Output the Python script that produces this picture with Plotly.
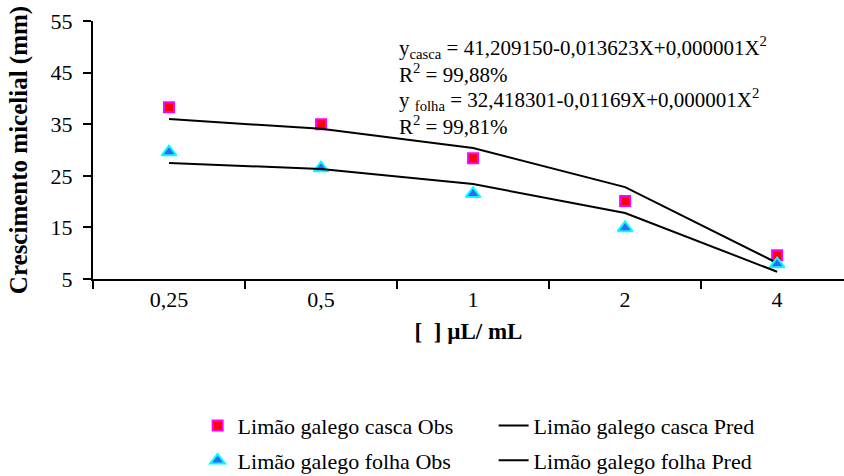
import plotly.graph_objects as go

# Concentrations (µL/mL) shown as categories on the x axis
concentracoes = ["0,25", "0,5", "1", "2", "4"]

# Mycelial growth (mm)
casca_obs = [38.3, 35.0, 28.4, 20.1, 9.6]
casca_pred = [36.0, 34.1, 30.4, 22.8, 8.1]
folha_obs = [29.6, 26.5, 21.5, 14.9, 7.9]
folha_pred = [27.5, 26.3, 23.4, 17.8, 6.4]

eq_casca = "y<sub>casca</sub> = 41,209150-0,013623X+0,000001X<sup>2</sup>"
r2_casca = "R<sup>2</sup> = 99,88%"
eq_folha = "y <sub>folha</sub> = 32,418301-0,01169X+0,000001X<sup>2</sup>"
r2_folha = "R<sup>2</sup> = 99,81%"

FONT = "Liberation Serif"

fig = go.Figure()

fig.add_trace(go.Scatter(
    x=concentracoes, y=casca_obs, mode="markers", name="Limão galego casca Obs",
    marker=dict(symbol="square", size=10, color="#FF0000",
                line=dict(color="#FF00FF", width=2)),
    legend="legend",
))
fig.add_trace(go.Scatter(
    x=concentracoes, y=casca_pred, mode="lines", name="Limão galego casca Pred",
    line=dict(color="black", width=2),
    legend="legend",
))
fig.add_trace(go.Scatter(
    x=concentracoes, y=folha_obs, mode="markers", name="Limão galego folha Obs",
    marker=dict(symbol="triangle-up", size=13, color="#3366FF",
                line=dict(color="#00FFFF", width=2)),
    legend="legend2",
))
fig.add_trace(go.Scatter(
    x=concentracoes, y=folha_pred, mode="lines", name="Limão galego folha Pred",
    line=dict(color="black", width=2),
    legend="legend2",
))

# Regression equations with their coefficients of determination
for txt, yv in [(eq_casca + "<br>" + r2_casca, 47.4),
                (eq_folha + "<br>" + r2_folha, 37.3)]:
    fig.add_annotation(
        x=1.5, y=yv, xref="x", yref="y", text=txt, showarrow=False,
        xanchor="left", yanchor="middle", align="left",
        font=dict(family=FONT, size=21, color="black"),
    )

legend_style = dict(
    orientation="h", xanchor="left", yanchor="top",
    font=dict(family=FONT, size=22, color="black"),
    entrywidth=251, entrywidthmode="pixels",
    bgcolor="rgba(0,0,0,0)", itemclick=False, itemdoubleclick=False,
)

fig.update_layout(
    width=844, height=476,
    margin=dict(l=93, r=0, t=21, b=197, autoexpand=False),
    plot_bgcolor="white", paper_bgcolor="white",
    font=dict(family=FONT, size=21, color="black"),
    showlegend=True,
    legend=dict(x=0.1393, y=-0.487, **legend_style),
    legend2=dict(x=0.1393, y=-0.622, **legend_style),
    xaxis=dict(
        type="category", range=[-0.5, 4.44],
        tickson="boundaries", ticks="outside", ticklen=8, tickwidth=2,
        tickcolor="black", showline=True, linecolor="black", linewidth=2,
        showgrid=False, zeroline=False,
        tickfont=dict(family=FONT, size=22, color="black"),
        title=dict(text="<b>[  ] µL/ mL</b>", standoff=11,
                   font=dict(family=FONT, size=23, color="black")),
    ),
    yaxis=dict(
        range=[5, 55], tickmode="linear", tick0=5, dtick=10,
        ticks="outside", ticklen=8, tickwidth=2, tickcolor="black",
        showline=True, linecolor="black", linewidth=2,
        showgrid=False, zeroline=False, ticklabelstandoff=6,
        tickfont=dict(family=FONT, size=22, color="black"),
        title=dict(text="<b>Crescimento micelial (mm)</b>", standoff=16,
                   font=dict(family=FONT, size=25, color="black")),
    ),
)

fig.write_html("out.html")
